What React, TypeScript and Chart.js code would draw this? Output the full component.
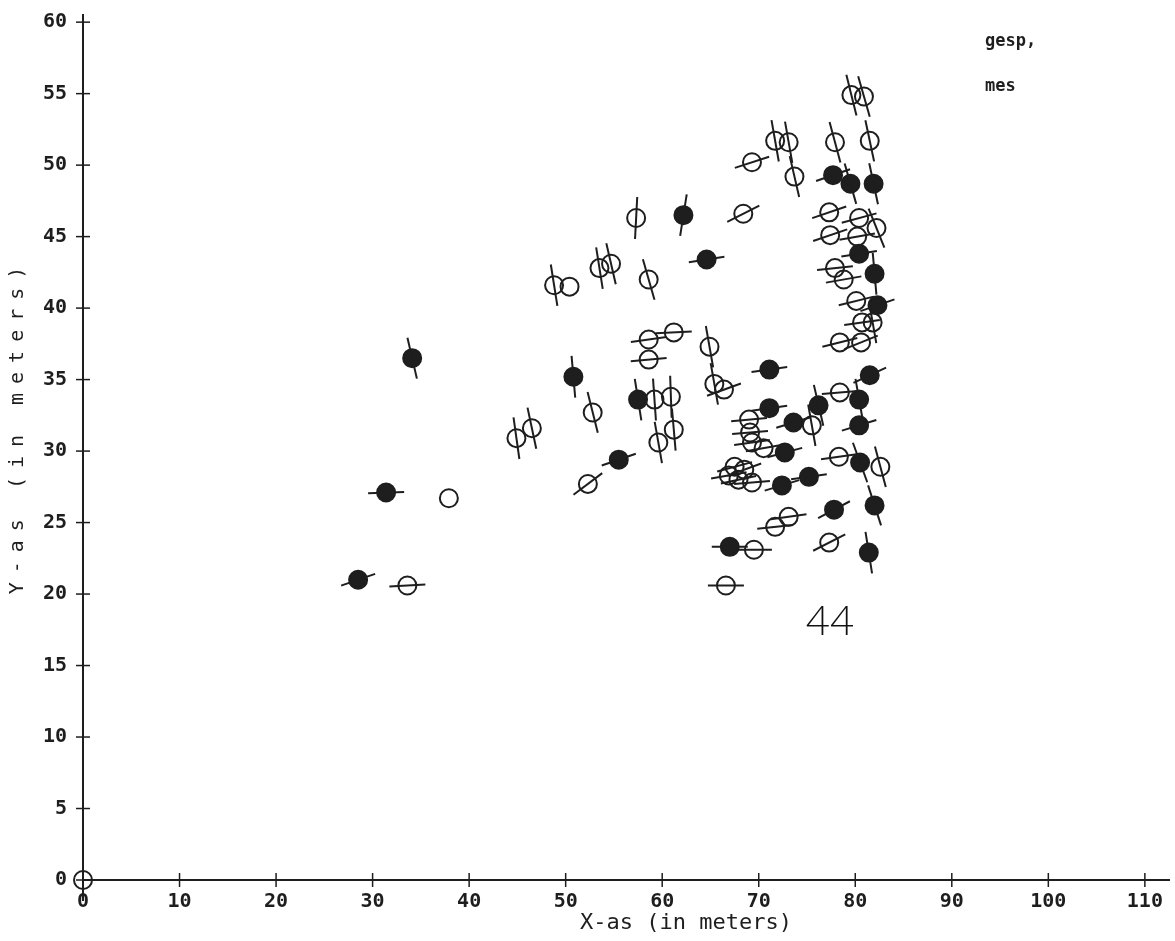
import React, { useEffect, useRef } from "react";
import { Chart, registerables } from "chart.js";

Chart.register(...registerables);

// ---- data ----
// open symbols ("gesp,")
const openX = [0, 33.6, 37.9, 48.8, 50.4, 53.5, 54.7, 57.3, 58.6, 58.6, 61.2, 58.6, 59.2, 60.9, 52.8, 61.2, 59.6, 44.9, 46.5, 52.3, 64.9, 65.4, 66.4, 69.3, 71.7, 73.1, 73.7, 77.9, 79.6, 80.9, 81.5, 68.4, 77.3, 80.4, 82.2, 77.4, 80.2, 77.9, 78.8, 80.1, 80.7, 81.8, 78.4, 80.6, 78.4, 75.5, 69.0, 69.1, 69.3, 70.5, 78.3, 82.6, 67.5, 66.9, 68.5, 69.3, 67.9, 73.1, 71.7, 77.3, 69.5, 66.6];
const openY = [0, 20.6, 26.7, 41.6, 41.5, 42.8, 43.1, 46.3, 42.0, 37.8, 38.3, 36.4, 33.6, 33.8, 32.7, 31.5, 30.6, 30.9, 31.6, 27.7, 37.3, 34.7, 34.3, 50.2, 51.7, 51.6, 49.2, 51.6, 54.9, 54.8, 51.7, 46.6, 46.7, 46.3, 45.6, 45.1, 45.0, 42.8, 42.0, 40.5, 39.0, 39.0, 37.6, 37.6, 34.1, 31.8, 32.2, 31.3, 30.6, 30.2, 29.6, 28.9, 28.9, 28.3, 28.7, 27.8, 28.0, 25.4, 24.7, 23.6, 23.1, 20.6];
// direction of the stroke through each symbol, degrees (null = no stroke)
const openDir: (number | null)[] = [90, -3, null, 81, null, 81, 77, 93, 74, -8, -3, -5, 86, 88, 76, 85, 80, 82, 78, -37, 80, 80, -20, -18, 80, 80, 77, 75, 76, 74, 78, -27, -19, -15, 68, -19, -10, -6, -10, -14, -8, 80, -14, -22, -5, 80, -5, -5, -8, -10, -8, 75, -15, -10, -20, -5, -12, -8, -6, -27, 0, 0];

// filled symbols ("mes")
const filledX = [28.5, 31.4, 34.1, 50.8, 57.5, 55.5, 62.2, 64.6, 77.7, 79.5, 81.9, 80.4, 82.0, 82.3, 71.1, 81.5, 76.2, 80.4, 71.1, 73.6, 80.4, 72.7, 80.5, 75.2, 72.4, 77.8, 82.0, 81.4, 67.0];
const filledY = [21.0, 27.1, 36.5, 35.2, 33.6, 29.4, 46.5, 43.4, 49.3, 48.7, 48.7, 43.8, 42.4, 40.2, 35.7, 35.3, 33.2, 33.6, 33.0, 32.0, 31.8, 29.9, 29.2, 28.2, 27.6, 25.9, 26.2, 22.9, 23.3];
const filledDir: (number | null)[] = [-19, -2, 77, 85, 81, -19, 99, -9, -19, 74, 78, -9, 85, -19, -8, -25, 77, 80, -8, -17, -17, -15, 70, -8, -17, -28, 72, 81, 0];

const xTicks = [0, 10, 20, 30, 40, 50, 60, 70, 80, 90, 100, 110];
const yTicks = [0, 5, 10, 15, 20, 25, 30, 35, 40, 45, 50, 55, 60];
const legendLabels = ["gesp,", "mes"];
const xTitle = "X-as (in meters)";
const yTitle = "Y-as (in meters)";
const handNote = "44";

export default function App() {
  const ref = useRef<HTMLCanvasElement>(null);

  useEffect(() => {
    const canvas = ref.current;
    if (!canvas) return;
    const ink = "#1e1e1e";
    const mono = '"DejaVu Sans Mono", "Liberation Mono", monospace';
    const pts = (xs: number[], ys: number[]) => xs.map((x, i) => ({ x, y: ys[i] }));
    const strokeLen = (d: number | null) => (d === null ? 0 : Math.abs(d) > 45 ? 21 : 18);
    const noPad = (s: any) => {
      s.paddingLeft = 0;
      s.paddingRight = 0;
      s.paddingTop = 0;
      s.paddingBottom = 0;
    };

    const decor = {
      id: "printerDecor",
      afterDraw(chart: any) {
        const { ctx, scales } = chart;
        const xs = scales.x;
        const ys = scales.y;
        ctx.save();
        ctx.strokeStyle = ink;
        ctx.lineWidth = 1.5;
        // cross-shaped tick marks
        xTicks.forEach((v) => {
          const px = xs.getPixelForValue(v);
          ctx.beginPath();
          ctx.moveTo(px, ys.bottom - 7);
          ctx.lineTo(px, ys.bottom + 7);
          ctx.stroke();
        });
        yTicks.forEach((v) => {
          const py = ys.getPixelForValue(v);
          ctx.beginPath();
          ctx.moveTo(xs.left - 7, py);
          ctx.lineTo(xs.left + 7, py);
          ctx.stroke();
        });
        ctx.fillStyle = ink;
        // axis titles
        ctx.font = `22px ${mono}`;
        ctx.textAlign = "center";
        ctx.textBaseline = "middle";
        ctx.fillText(xTitle, 686, 923);
        ctx.save();
        ctx.translate(18, 426);
        ctx.rotate(-Math.PI / 2);
        (ctx as any).letterSpacing = "9px";
        ctx.font = `20px ${mono}`;
        ctx.fillText(yTitle, 0, 0);
        ctx.restore();
        // legend texts
        ctx.font = `bold 17px ${mono}`;
        ctx.textAlign = "left";
        ctx.fillText(legendLabels[0], 985, 42);
        ctx.fillText(legendLabels[1], 985, 87);
        // handwritten note
        ctx.font = `300 42px "Lato", "Open Sans", sans-serif`;
        ctx.textAlign = "center";
        ctx.fillStyle = "#111";
        ctx.fillText(handNote, 830, 621);
        ctx.restore();
      },
    };

    const chart = new Chart(canvas, {
      type: "scatter",
      data: {
        datasets: [
          {
            label: "gesp, stroke",
            data: pts(openX, openY),
            pointStyle: "line",
            pointRadius: openDir.map(strokeLen),
            rotation: openDir.map((d) => d ?? 0),
            borderColor: ink,
            borderWidth: 2,
            clip: false,
          },
          {
            label: "mes stroke",
            data: pts(filledX, filledY),
            pointStyle: "line",
            pointRadius: filledDir.map(strokeLen),
            rotation: filledDir.map((d) => d ?? 0),
            borderColor: ink,
            borderWidth: 2,
            clip: false,
          },
          {
            label: legendLabels[0],
            data: pts(openX, openY),
            pointStyle: "circle",
            pointRadius: 9,
            backgroundColor: "rgba(0,0,0,0)",
            borderColor: ink,
            borderWidth: 2,
            clip: false,
          },
          {
            label: legendLabels[1],
            data: pts(filledX, filledY),
            pointStyle: "circle",
            pointRadius: 9,
            backgroundColor: ink,
            borderColor: ink,
            borderWidth: 2,
            clip: false,
          },
        ],
      },
      options: {
        responsive: false,
        animation: false,
        events: [],
        layout: { autoPadding: false, padding: { left: 0, right: 6, top: 15, bottom: 0 } },
        plugins: { legend: { display: false }, tooltip: { enabled: false } },
        scales: {
          x: {
            type: "linear",
            min: 0,
            max: 112.5,
            afterBuildTicks: (s: any) => {
              s.ticks = xTicks.map((value) => ({ value }));
            },
            afterFit: (s: any) => {
              s.height = 61;
              noPad(s);
            },
            grid: { display: false, drawTicks: false },
            border: { display: true, color: ink, width: 2 },
            ticks: {
              autoSkip: false,
              maxRotation: 0,
              padding: 10,
              color: ink,
              font: { family: mono, size: 20, weight: "bold" },
            },
          },
          y: {
            type: "linear",
            min: 0,
            max: 60.5,
            afterBuildTicks: (s: any) => {
              s.ticks = yTicks.map((value) => ({ value }));
            },
            afterFit: (s: any) => {
              s.width = 83;
              noPad(s);
            },
            grid: { display: false, drawTicks: false },
            border: { display: true, color: ink, width: 2 },
            ticks: {
              autoSkip: false,
              padding: 16,
              color: ink,
              font: { family: mono, size: 20, weight: "bold" },
            },
          },
        },
      },
      plugins: [decor],
    });
    return () => chart.destroy();
  }, []);

  return (
    <canvas
      ref={ref}
      width={1175}
      height={941}
      style={{ position: "fixed", left: 0, top: 0, width: 1175, height: 941, background: "#fff" }}
    />
  );
}
